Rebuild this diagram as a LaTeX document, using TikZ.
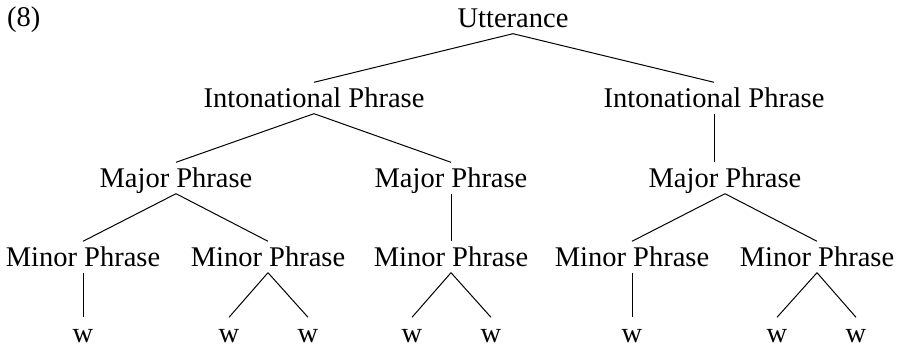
\documentclass[tikz,border=0pt]{standalone}
\usepackage{fontspec}
\setmainfont{Liberation Serif}
\begin{document}
\begin{tikzpicture}[x=1pt,y=1pt,
  lbl/.style={font=\fontsize{28.5}{30}\selectfont, inner xsep=0pt, inner ysep=5.5pt,
              text height=20pt, text depth=0pt, anchor=base},
  edge/.style={line width=1pt}]
\useasboundingbox (0,0) rectangle (902,350);

% example number
\node[lbl, anchor=base west] (ex) at (7,323) {(8)};

% root
\node[lbl] (u) at (513,322) {Utterance};

% intonational phrases
\node[lbl] (ip1) at (314,242) {Intonational Phrase};
\node[lbl] (ip2) at (714,242) {Intonational Phrase};

% major phrases
\node[lbl] (maj1) at (176,162) {Major Phrase};
\node[lbl] (maj2) at (451,162) {Major Phrase};
\node[lbl] (maj3) at (725,162) {Major Phrase};

% minor phrases
\node[lbl] (min1) at (83,83) {Minor Phrase};
\node[lbl] (min2) at (268,83) {Minor Phrase};
\node[lbl] (min3) at (451,83) {Minor Phrase};
\node[lbl] (min4) at (632,83) {Minor Phrase};
\node[lbl] (min5) at (817,83) {Minor Phrase};

% words
\node[lbl] (w1) at (83,7) {w};
\node[lbl] (w2) at (229,7) {w};
\node[lbl] (w3) at (308,7) {w};
\node[lbl] (w4) at (412,7) {w};
\node[lbl] (w5) at (491,7) {w};
\node[lbl] (w6) at (632,7) {w};
\node[lbl] (w7) at (777,7) {w};
\node[lbl] (w8) at (856,7) {w};

% branches
\draw[edge] (u.south) -- (ip1.north);
\draw[edge] (u.south) -- (ip2.north);
\draw[edge] (ip1.south) -- (maj1.north);
\draw[edge] (ip1.south) -- (maj2.north);
\draw[edge] (ip2.south) -- (ip2.south |- maj3.north);
\draw[edge] (maj1.south) -- (min1.north);
\draw[edge] (maj1.south) -- (min2.north);
\draw[edge] (maj2.south) -- (min3.north);
\draw[edge] (maj3.south) -- (min4.north);
\draw[edge] (maj3.south) -- (min5.north);
\draw[edge] (min1.south) -- (w1.north);
\draw[edge] (min2.south) -- (w2.north);
\draw[edge] (min2.south) -- (w3.north);
\draw[edge] (min3.south) -- (w4.north);
\draw[edge] (min3.south) -- (w5.north);
\draw[edge] (min4.south) -- (w6.north);
\draw[edge] (min5.south) -- (w7.north);
\draw[edge] (min5.south) -- (w8.north);
\end{tikzpicture}
\end{document}
